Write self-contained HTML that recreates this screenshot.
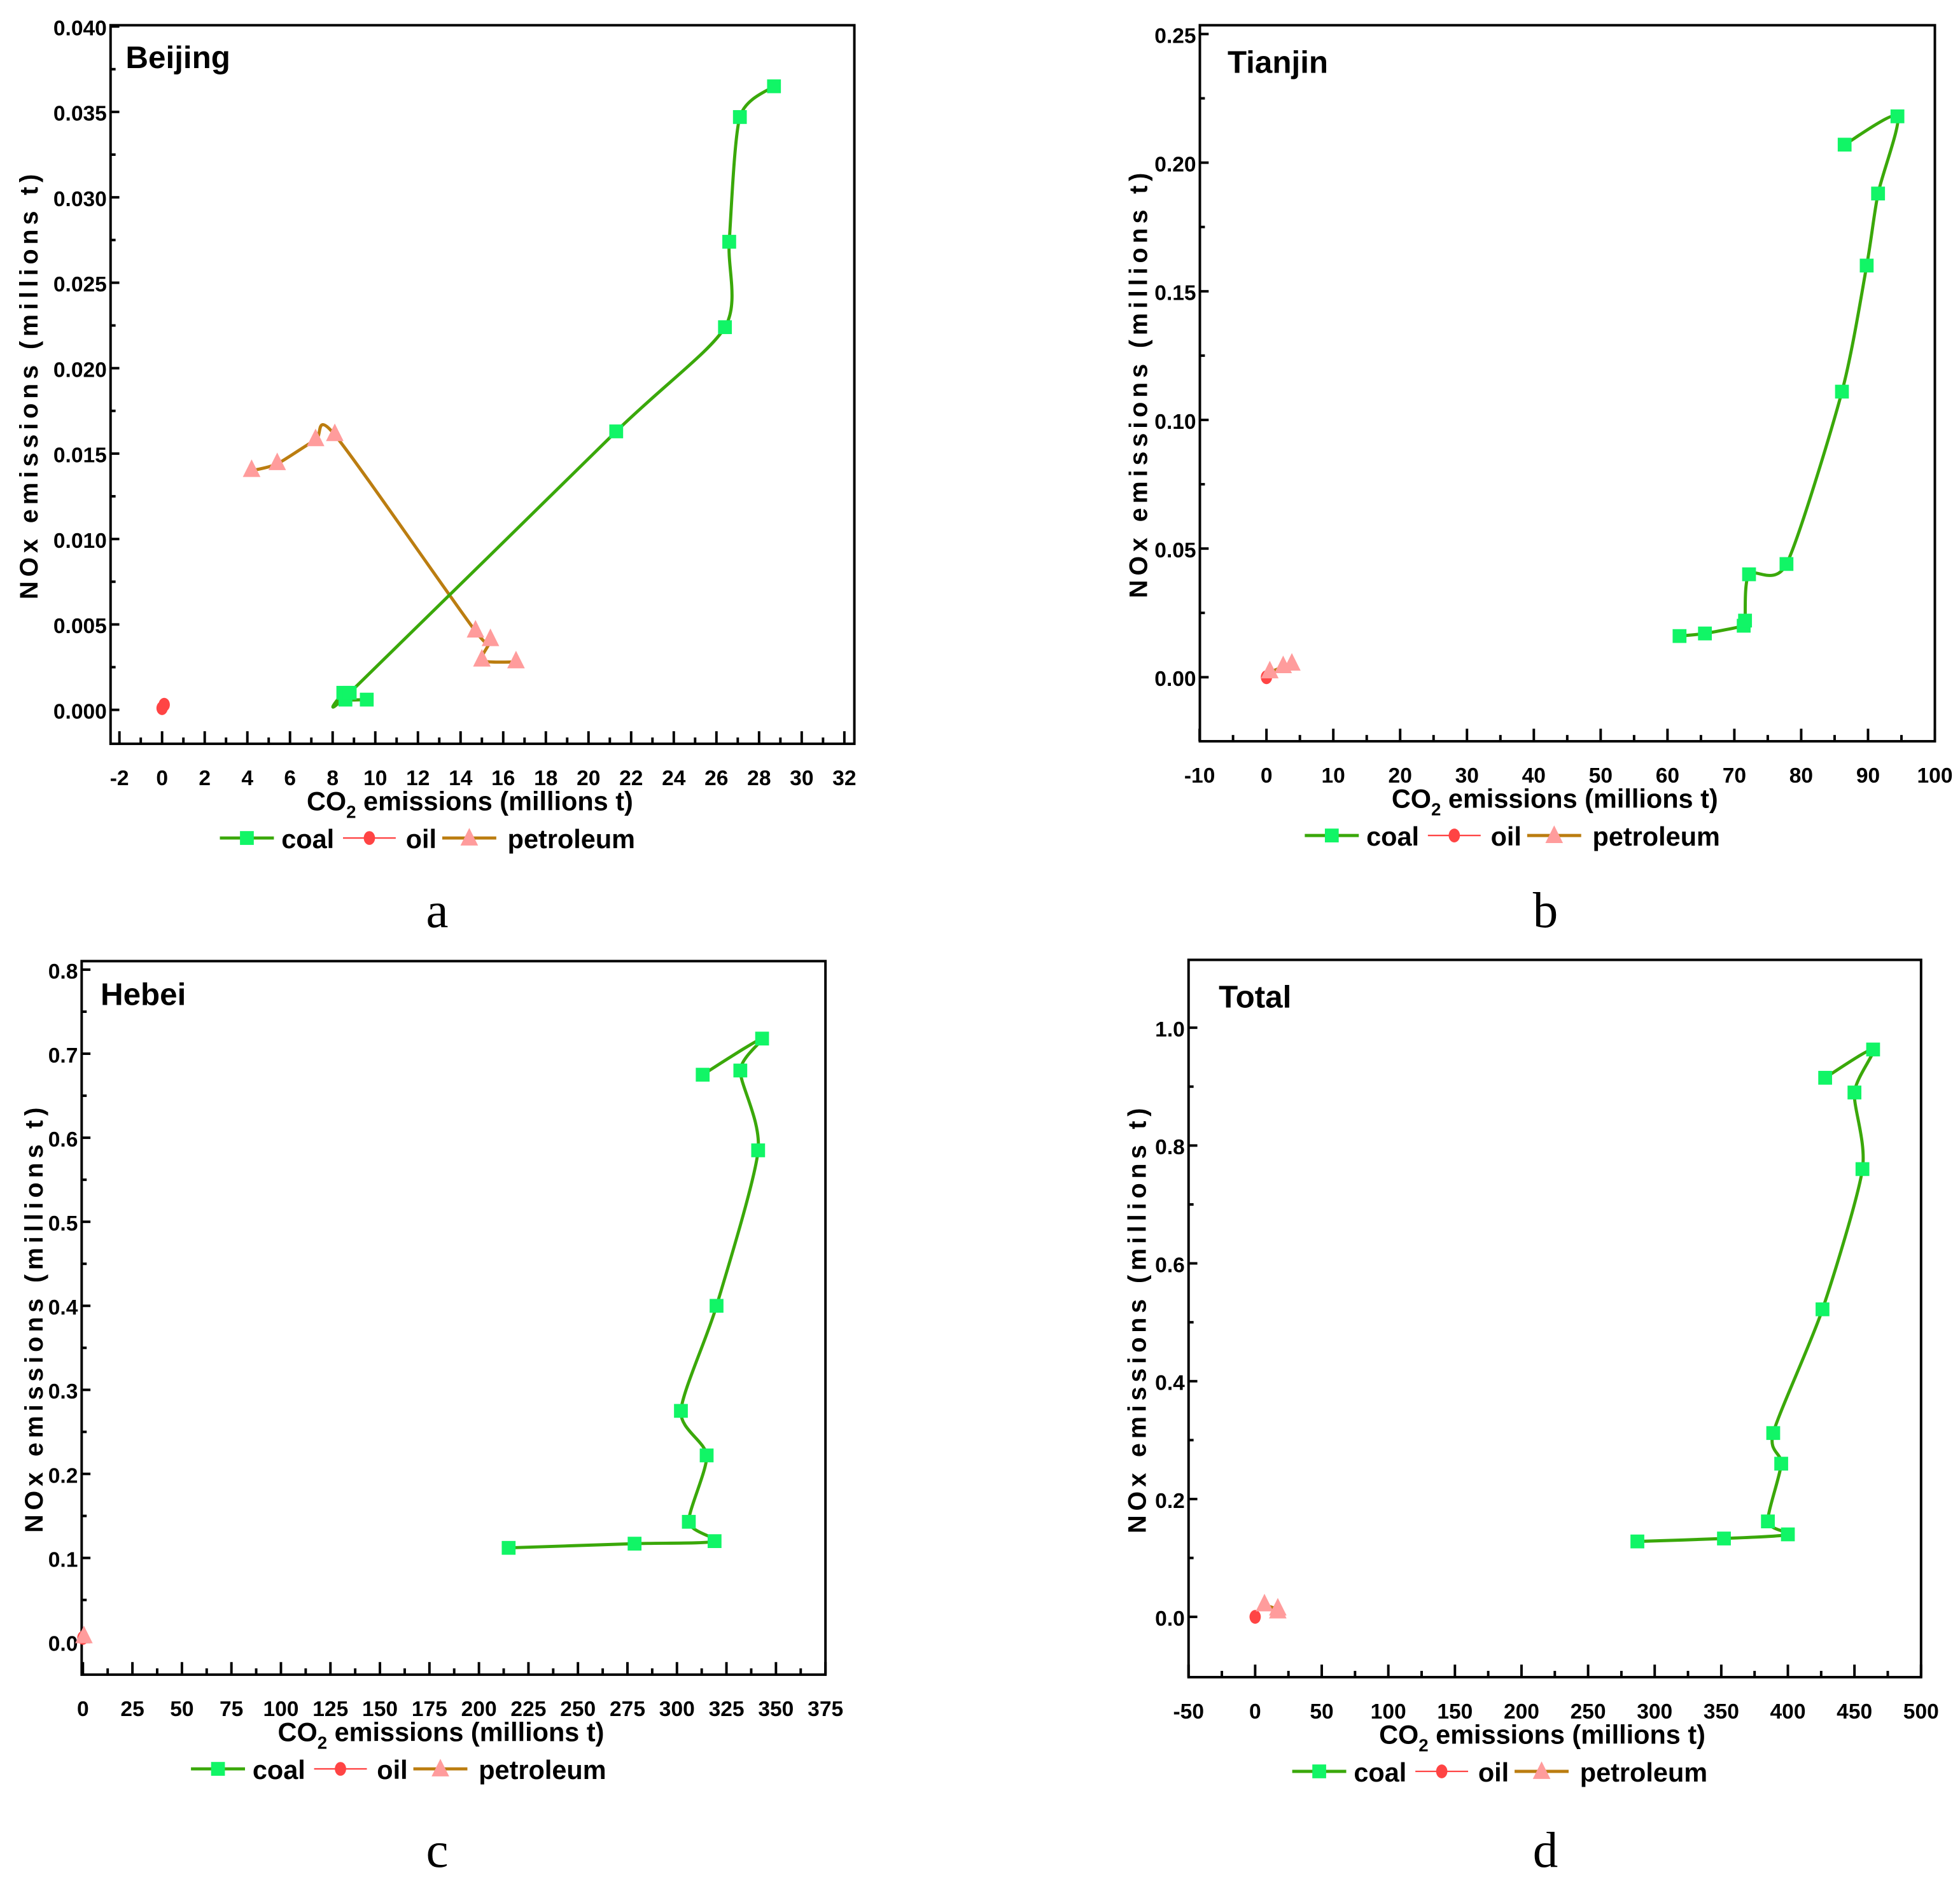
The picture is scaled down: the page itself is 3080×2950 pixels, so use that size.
<!DOCTYPE html>
<html><head><meta charset="utf-8">
<style>
html,body{margin:0;padding:0;background:#fff;}
svg{display:block;}
text{font-family:"Liberation Sans Narrow","Liberation Sans",sans-serif;font-weight:bold;fill:#000;}
.letter{font-family:"Liberation Serif",serif;font-weight:normal;}
</style></head>
<body>
<svg id="fig" width="3080" height="2950" viewBox="0 0 1560 1494" xmlns="http://www.w3.org/2000/svg"></svg>
<script>
// ---- data (CO2 millions t, NOx millions t) ----
const bjCoalX=[9.6,8.6,8.5,8.8,21.3,26.4,26.6,27.1,28.7];
const bjCoalY=[0.0006,0.0006,0.0010,0.0010,0.0163,0.0224,0.0274,0.0347,0.0365];
const bjOilX=[0.0,0.1];
const bjOilY=[0.0001,0.0003];
const bjPetX=[4.2,5.4,7.2,8.1,14.7,15.4,15.0,16.6];
const bjPetY=[0.0140,0.0144,0.0158,0.0161,0.0046,0.0041,0.0029,0.0028];

const tjCoalX=[61.8,65.6,71.4,71.6,72.2,77.8,86.1,89.8,91.5,94.4,86.5];
const tjCoalY=[0.016,0.017,0.020,0.022,0.040,0.044,0.111,0.160,0.188,0.218,0.207];
const tjOilX=[0.0];
const tjOilY=[0.0];
const tjPetX=[0.5,2.5,3.8];
const tjPetY=[0.002,0.004,0.005];

const hbCoalX=[215,278.6,319,306,315,302,320,341,332,343,313];
const hbCoalY=[0.112,0.117,0.120,0.143,0.222,0.275,0.400,0.585,0.680,0.718,0.675];
const hbOilX=[0.0];
const hbOilY=[0.005];
const hbPetX=[0.5];
const hbPetY=[0.006];

const ttCoalX=[287,352,400,385,395,389,426,456,450,464,428];
const ttCoalY=[0.128,0.133,0.140,0.162,0.260,0.312,0.522,0.760,0.890,0.963,0.915];
const ttOilX=[0.0];
const ttOilY=[0.0];
const ttPetX=[7,17,17];
const ttPetY=[0.020,0.013,0.008];

const bjXTicks=[-2,0,2,4,6,8,10,12,14,16,18,20,22,24,26,28,30,32];
const bjYTicks=[0,0.005,0.010,0.015,0.020,0.025,0.030,0.035,0.040];
const tjXTicks=[-10,0,10,20,30,40,50,60,70,80,90,100];
const tjYTicks=[0,0.05,0.10,0.15,0.20,0.25];
const hbXTicks=[0,25,50,75,100,125,150,175,200,225,250,275,300,325,350,375];
const hbYTicks=[0,0.1,0.2,0.3,0.4,0.5,0.6,0.7,0.8];
const ttXTicks=[-50,0,50,100,150,200,250,300,350,400,450,500];
const ttYTicks=[0,0.2,0.4,0.6,0.8,1.0];

const NS="http://www.w3.org/2000/svg";
const svg=document.getElementById('fig');
function mk(tag,attrs,parent){const e=document.createElementNS(NS,tag);for(const k in attrs)e.setAttribute(k,attrs[k]);(parent||svg).appendChild(e);return e;}

function catmull(pts){
  if(pts.length<2)return '';
  const k=8;
  let d='M'+pts[0][0]+','+pts[0][1];
  for(let i=0;i<pts.length-1;i++){
    const p0=pts[i-1]||pts[i],p1=pts[i],p2=pts[i+1],p3=pts[i+2]||p2;
    const c1=[p1[0]+(p2[0]-p0[0])/k,p1[1]+(p2[1]-p0[1])/k];
    const c2=[p2[0]-(p3[0]-p1[0])/k,p2[1]-(p3[1]-p1[1])/k];
    d+=' C'+c1[0]+','+c1[1]+' '+c2[0]+','+c2[1]+' '+p2[0]+','+p2[1];
  }
  return d;
}
function marker(g,type,x,y){
  let e;
  if(type==='sq'){e=mk('rect',{x:x-5.5,y:y-5.5,width:11,height:11,fill:'#11f566'},g);}
  else if(type==='ci'){e=mk('ellipse',{cx:x,cy:y,rx:4.5,ry:5.5,fill:'#ff4444'},g);}
  else {e=mk('polygon',{points:(x)+','+(y-9)+' '+(x-7)+','+(y+5)+' '+(x+7)+','+(y+5),fill:'#ff9c9c'},g);}
  return e;
}

function panel(cfg){
  const g=mk('g',{});
  
  
  const [L,T,R,B]=cfg.frame;
  const X=v=>cfg.x0+v*cfg.kx, Y=v=>cfg.y0-v*cfg.ky;
  const fr=mk('rect',{x:L,y:T,width:R-L,height:B-T,fill:'none',stroke:'#000','stroke-width':2},g);
  
  
  const xt=cfg.xt, xs=xt[1]-xt[0];
  xt.forEach((v,i)=>{
    const px=X(v);
    mk('line',{x1:px,x2:px,y1:B,y2:B-10,stroke:'#000','stroke-width':2},g);
    if(i<xt.length-1){const mx=X(v+xs/2);mk('line',{x1:mx,x2:mx,y1:B,y2:B-5,stroke:'#000','stroke-width':2},g);}
    const t=mk('text',{x:px,y:B+33,'text-anchor':'middle','font-size':17},g);
    t.textContent=cfg.xfmt(v);
    
    
  });
  const yt=cfg.yt, ys=yt[1]-yt[0];
  yt.forEach((v,i)=>{
    const py=Y(v);
    mk('line',{x1:L,x2:L+7,y1:py,y2:py,stroke:'#000','stroke-width':2},g);
    if(i<yt.length-1){const my=Y(v+ys/2);mk('line',{x1:L,x2:L+4,y1:my,y2:my,stroke:'#000','stroke-width':2},g);}
    const t=mk('text',{x:L-3,y:py+7,'text-anchor':'end','font-size':17},g);
    t.textContent=v.toFixed(cfg.yd);
    
    
  });
  const tt=mk('text',{x:cfg.title[0],y:cfg.title[1],'font-size':25},g);
  tt.textContent=cfg.label;
  
  
  const cx=(L+R)/2, cy=(T+B)/2;
  const xa=mk('text',{x:cx-10,y:B+53,'text-anchor':'middle','font-size':21},g);
  xa.innerHTML='CO<tspan font-size="14" dy="6">2</tspan><tspan dy="-6"> emissions (millions t)</tspan>';
  
  
  const ya=mk('text',{x:0,y:0,'text-anchor':'middle','font-size':20,'letter-spacing':'3.5',transform:'translate('+cfg.yax+','+cy+') rotate(-90)','font-family':'Liberation Sans, sans-serif'},g);
  ya.textContent='NOx emissions (millions t)';
  
  
  const series=[
    {n:'coal',xs:cfg.coal[0],ys:cfg.coal[1],col:'#3aa80a',w:2.5,m:'sq'},
    {n:'oil',xs:cfg.oil[0],ys:cfg.oil[1],col:'#ff4444',w:1.2,m:'ci'},
    {n:'petroleum',xs:cfg.pet[0],ys:cfg.pet[1],col:'#bb7d10',w:2.5,m:'tr'}];
  [series[1],series[2],series[0]].forEach(s=>{
    const pts=s.xs.map((v,i)=>[X(v),Y(s.ys[i])]);
    const p=mk('path',{d:catmull(pts),fill:'none',stroke:s.col,'stroke-width':s.w},g);
    
    
    pts.forEach(q=>{const m=marker(g,s.m,q[0],q[1]);
      
      });
  });
  const ly=B+75, lx=cx-209;
  const lg=mk('g',{},g);
  
  
  const items=[['coal',0,43,'#3aa80a',2.5,'sq',49],['oil',98,140,'#ff4444',1.2,'ci',148],['petroleum',177,220,'#bb7d10',2.5,'tr',229]];
  items.forEach(it=>{
    const e=mk('g',{},lg);
    
    
    mk('line',{x1:lx+it[1],x2:lx+it[2],y1:ly,y2:ly,stroke:it[3],'stroke-width':it[4]},e);
    marker(e,it[5],lx+(it[1]+it[2])/2,ly+(it[5]==='tr'?1:0));
    const t=mk('text',{x:lx+it[6],y:ly+8,'font-size':21},e);
    t.textContent=it[0];
  });
  const le=mk('text',{x:cfg.letter[0],y:cfg.letter[1],'text-anchor':'middle','font-size':40,'class':'letter'},g);
  le.textContent=cfg.lt;
  
  
}

panel({name:'beijing',label:'Beijing',lt:'a',frame:[88,20,680,592],x0:129,kx:16.97,y0:565,ky:13600,
  xt:bjXTicks,yt:bjYTicks,yd:3,xfmt:v=>String(v),title:[100,54],yax:30,letter:[348,738],
  coal:[bjCoalX,bjCoalY],oil:[bjOilX,bjOilY],pet:[bjPetX,bjPetY]});
panel({name:'tianjin',label:'Tianjin',lt:'b',frame:[955,20,1540,590],x0:1008,kx:5.32,y0:539,ky:2048,
  xt:tjXTicks,yt:tjYTicks,yd:2,xfmt:v=>String(v),title:[977,58],yax:913,letter:[1230,738],
  coal:[tjCoalX,tjCoalY],oil:[tjOilX,tjOilY],pet:[tjPetX,tjPetY]});
panel({name:'hebei',label:'Hebei',lt:'c',frame:[65,765,657,1333],x0:66,kx:1.576,y0:1307,ky:669,
  xt:hbXTicks,yt:hbYTicks,yd:1,xfmt:v=>String(v),title:[80,800],yax:34,letter:[348,1486],
  coal:[hbCoalX,hbCoalY],oil:[hbOilX,hbOilY],pet:[hbPetX,hbPetY]});
panel({name:'total',label:'Total',lt:'d',frame:[946,764,1529,1335],x0:999,kx:1.06,y0:1287,ky:469,
  xt:ttXTicks,yt:ttYTicks,yd:1,xfmt:v=>String(v),title:[970,802],yax:912,letter:[1230,1486],
  coal:[ttCoalX,ttCoalY],oil:[ttOilX,ttOilY],pet:[ttPetX,ttPetY]});
</script>
</body></html>
